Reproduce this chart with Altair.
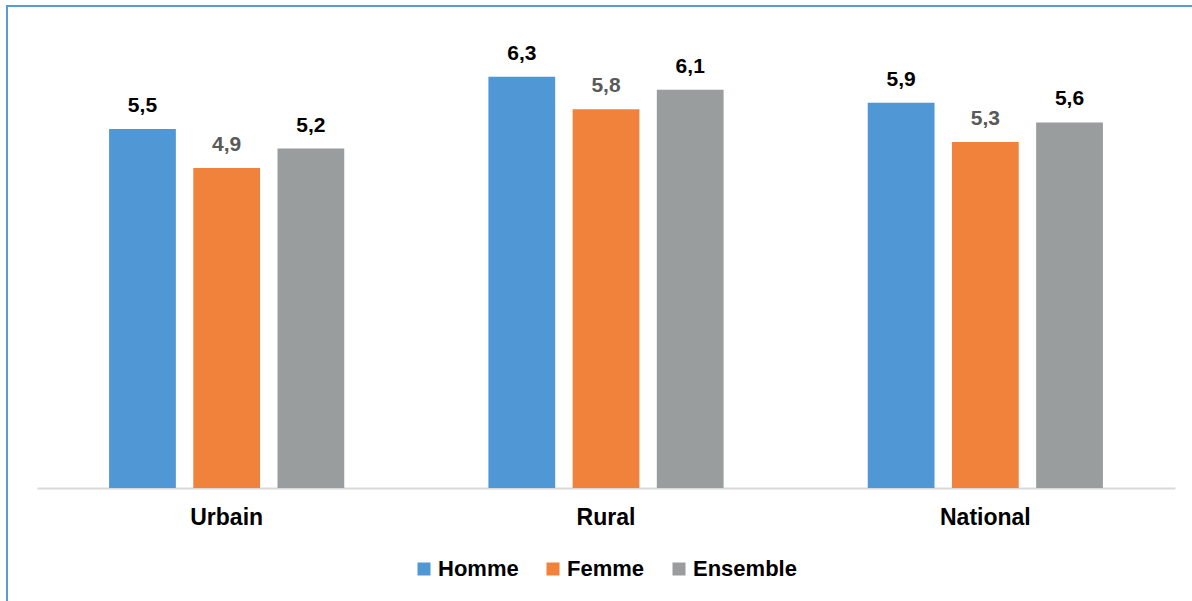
import altair as alt
import pandas as pd

# Average values by area of residence and sex
zones = ["Urbain", "Rural", "National"]
series = ["Homme", "Femme", "Ensemble"]
homme = [5.5, 6.3, 5.9]
femme = [4.9, 5.8, 5.3]
ensemble = [5.2, 6.1, 5.6]
colors = ["#5097D5", "#F0823C", "#9A9D9D"]

rows = []
for i, z in enumerate(zones):
    for s, vals in zip(series, [homme, femme, ensemble]):
        rows.append({"zone": z, "sexe": s, "valeur": vals[i]})
df = pd.DataFrame(rows)

FONT = "Liberation Sans"

x_enc = alt.X(
    "zone:N",
    sort=zones,
    title=None,
    scale=alt.Scale(paddingInner=0.38, paddingOuter=0.19),
    axis=alt.Axis(
        labelAngle=0,
        labelFont=FONT,
        labelFontSize=23,
        labelFontWeight="bold",
        labelColor="#000000",
        labelPadding=18,
        ticks=False,
        domainColor="#D9D9D9",
        domainWidth=2,
        grid=False,
    ),
)
xoff = alt.XOffset("sexe:N", sort=series, scale=alt.Scale(paddingInner=0.207))
y_enc = alt.Y("valeur:Q", scale=alt.Scale(domain=[0, 7], nice=False), axis=None)

bars = alt.Chart(df).mark_bar().encode(
    x=x_enc,
    xOffset=xoff,
    y=y_enc,
    color=alt.Color(
        "sexe:N",
        sort=series,
        scale=alt.Scale(domain=series, range=colors),
        legend=alt.Legend(
            title=None,
            orient="none",
            direction="horizontal",
            legendX=376,
            legendY=527,
            symbolType="square",
            symbolSize=169,
            symbolStrokeWidth=0,
            labelFont=FONT,
            labelFontSize=22,
            labelFontWeight="bold",
            labelColor="#000000",
            labelOffset=3,
            columnPadding=23,
            padding=0,
        ),
    ),
)

labels = alt.Chart(df).transform_calculate(
    txt="replace(format(datum.valeur, '.1f'), '.', ',')"
).mark_text(
    font=FONT, fontSize=21, fontWeight="bold", baseline="alphabetic", dy=-17
).encode(
    x=alt.X("zone:N", sort=zones),
    xOffset=alt.XOffset("sexe:N", sort=series),
    y=alt.Y("valeur:Q"),
    text="txt:N",
    color=alt.condition(
        alt.datum.sexe == "Femme", alt.value("#595959"), alt.value("#000000")
    ),
)

# Blue frame around the figure
frame = alt.Chart(df).mark_rect(
    fill=None, stroke="#5B9BD5", strokeWidth=1.5, clip=False
).encode(
    x=alt.value(-30),
    x2=alt.value(1200),
    y=alt.value(-25),
    y2=alt.value(640),
)

chart = (
    alt.layer(frame, bars, labels)
    .properties(
        width=1138,
        height=457,
        autosize=alt.AutoSizeParams(type="none"),
        padding={"left": 37, "top": 31, "right": 17, "bottom": 113},
    )
    .configure(background="white")
    .configure_view(strokeWidth=0, stroke="transparent")
)

chart.save("out.html", embed_options={"renderer": "svg", "actions": False})
